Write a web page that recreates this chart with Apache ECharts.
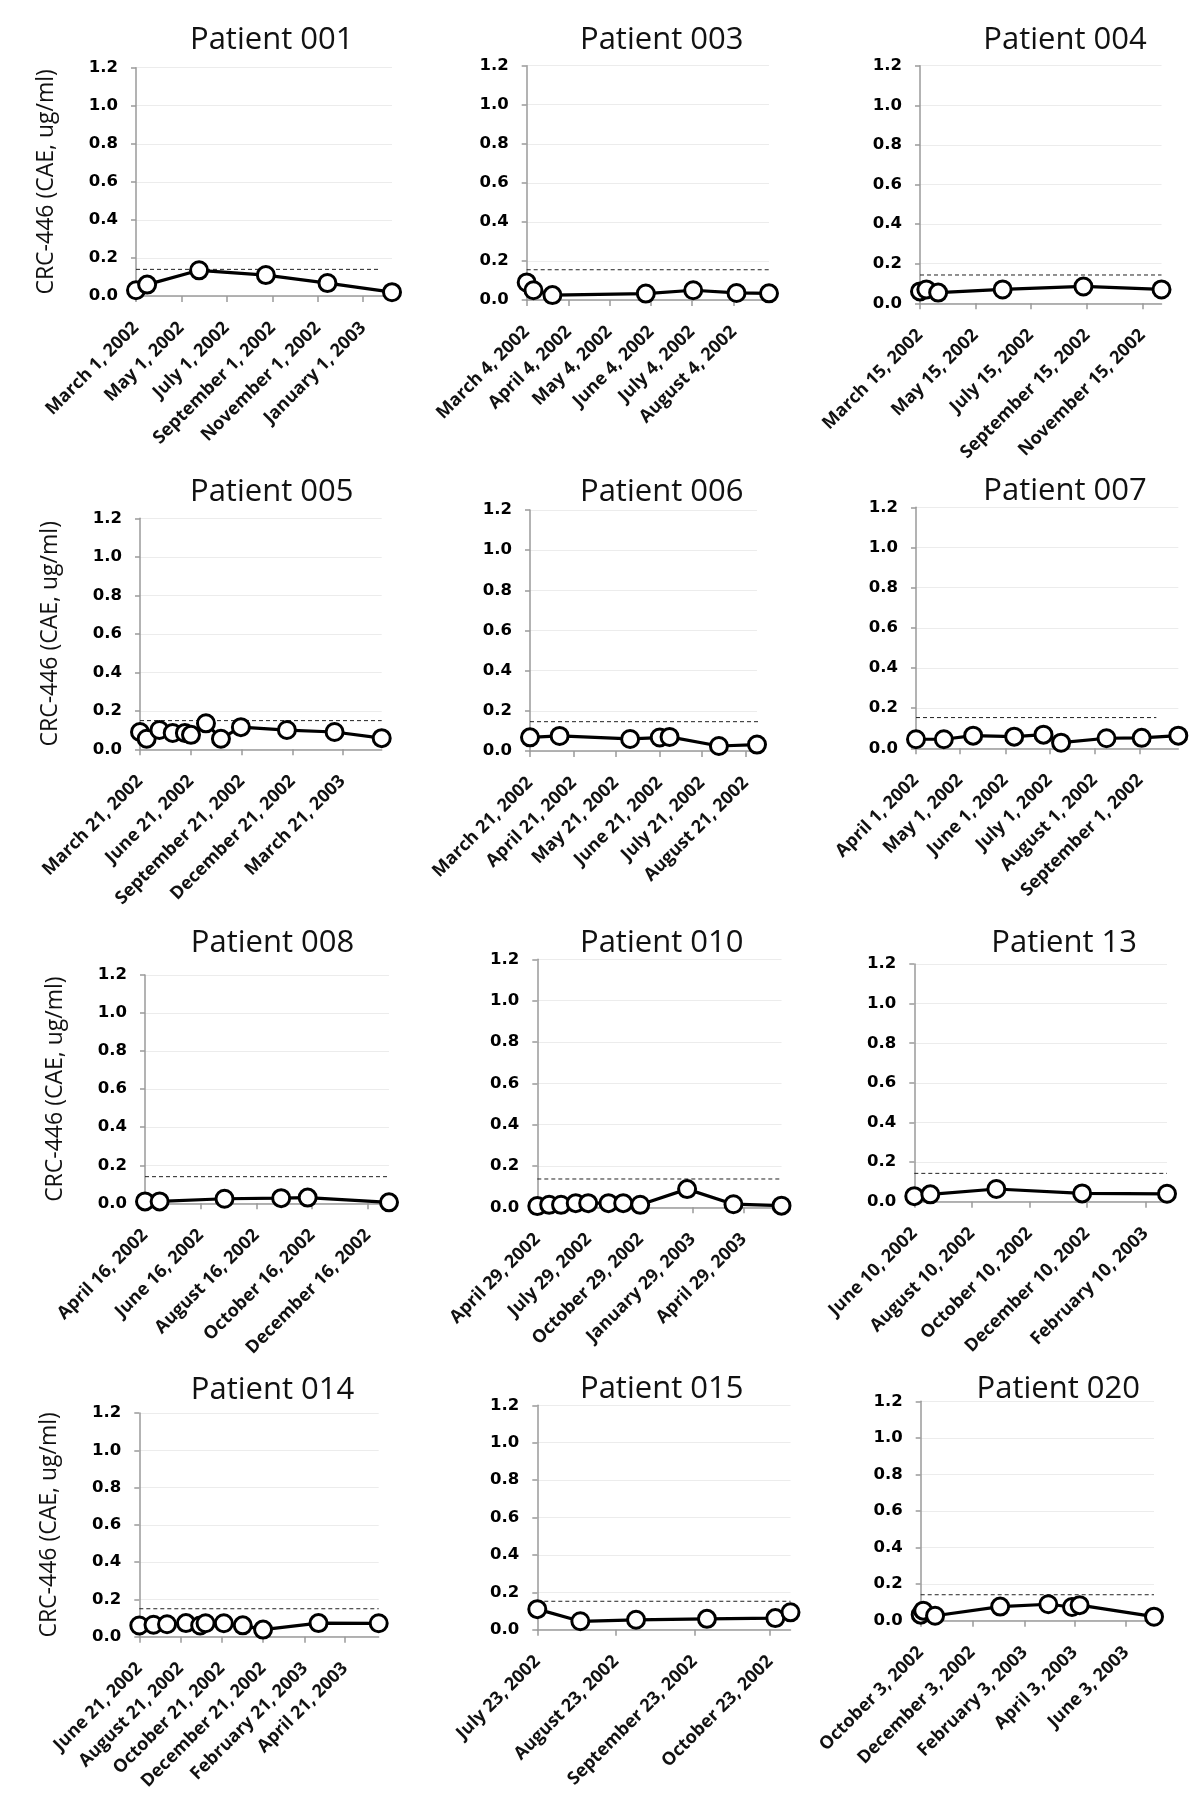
<!DOCTYPE html>
<html><head><meta charset="utf-8">
<script src="https://cdn.jsdelivr.net/npm/echarts@6/dist/echarts.min.js"></script>
<style>html,body{margin:0;padding:0;background:#fff}#c{width:1200px;height:1798px}</style>
</head><body><div id="c"></div>
<script>
// ---------------- DATA ----------------
const titles = ['Patient 001','Patient 003','Patient 004','Patient 005','Patient 006','Patient 007',
                'Patient 008','Patient 010','Patient 13','Patient 014','Patient 015','Patient 020'];
const yAxisTitle = 'CRC-446 (CAE, ug/ml)';
const yTicks = [0, 0.2, 0.4, 0.6, 0.8, 1.0, 1.2];

const p001Dates  = ['2002-03-01','2002-03-16','2002-05-25','2002-08-23','2002-11-14','2003-02-09'];
const p001Values = [0.03, 0.06, 0.135, 0.11, 0.068, 0.02];
const p001Ticks  = ['2002-03-01','2002-05-01','2002-07-01','2002-09-01','2002-11-01','2003-01-01'];

const p003Dates  = ['2002-03-04','2002-03-09','2002-03-23','2002-05-31','2002-07-05','2002-08-06','2002-08-30'];
const p003Values = [0.09, 0.05, 0.025, 0.033, 0.05, 0.036, 0.034];
const p003Ticks  = ['2002-03-04','2002-04-04','2002-05-04','2002-06-04','2002-07-04','2002-08-04'];

const p004Dates  = ['2002-03-15','2002-03-22','2002-04-04','2002-06-14','2002-09-11','2002-12-06'];
const p004Values = [0.06, 0.07, 0.054, 0.07, 0.085, 0.07];
const p004Ticks  = ['2002-03-15','2002-05-15','2002-07-15','2002-09-15','2002-11-15'];

const p005Dates  = ['2002-03-21','2002-04-02','2002-04-25','2002-05-19','2002-06-10','2002-06-21',
                    '2002-07-18','2002-08-14','2002-09-19','2002-12-11','2003-03-07','2003-05-31'];
const p005Values = [0.09, 0.055, 0.10, 0.085, 0.085, 0.075, 0.135, 0.055, 0.115, 0.10, 0.09, 0.058];
const p005Ticks  = ['2002-03-21','2002-06-21','2002-09-21','2002-12-21','2003-03-21'];

const p006Dates  = ['2002-03-21','2002-04-11','2002-05-31','2002-06-21','2002-06-28','2002-08-02','2002-08-29'];
const p006Values = [0.068, 0.075, 0.06, 0.067, 0.07, 0.025, 0.032];
const p006Ticks  = ['2002-03-21','2002-04-21','2002-05-21','2002-06-21','2002-07-21','2002-08-21'];

const p007Dates  = ['2002-04-01','2002-04-20','2002-05-10','2002-06-07','2002-06-27','2002-07-09',
                    '2002-08-09','2002-09-02','2002-09-27'];
const p007Values = [0.045, 0.045, 0.063, 0.058, 0.068, 0.028, 0.05, 0.052, 0.063];
const p007Ticks  = ['2002-04-01','2002-05-01','2002-06-01','2002-07-01','2002-08-01','2002-09-01'];

const p008Dates  = ['2002-04-16','2002-05-02','2002-07-12','2002-09-12','2002-10-11','2003-01-08'];
const p008Values = [0.01, 0.01, 0.024, 0.027, 0.03, 0.005];
const p008Ticks  = ['2002-04-16','2002-06-16','2002-08-16','2002-10-16','2002-12-16'];

const p010Dates  = ['2002-04-29','2002-05-20','2002-06-10','2002-07-06','2002-07-28','2002-09-02',
                    '2002-09-28','2002-10-28','2003-01-19','2003-04-11','2003-07-05'];
const p010Values = [0.006, 0.012, 0.012, 0.02, 0.02, 0.02, 0.02, 0.012, 0.088, 0.015, 0.008];
const p010Ticks  = ['2002-04-29','2002-07-29','2002-10-29','2003-01-29','2003-04-29'];

const p13Dates   = ['2002-06-10','2002-06-27','2002-09-05','2002-12-05','2003-03-05'];
const p13Values  = [0.028, 0.037, 0.064, 0.042, 0.04];
const p13Ticks   = ['2002-06-10','2002-08-10','2002-10-10','2002-12-10','2003-02-10'];

const p014Dates  = ['2002-06-21','2002-07-12','2002-08-01','2002-08-29','2002-09-19','2002-09-27',
                    '2002-10-24','2002-11-21','2002-12-21','2003-03-13','2003-06-10'];
const p014Values = [0.06, 0.064, 0.067, 0.073, 0.06, 0.072, 0.072, 0.061, 0.038, 0.073, 0.072];
const p014Ticks  = ['2002-06-21','2002-08-21','2002-10-21','2002-12-21','2003-02-21','2003-04-21'];

const p015Dates  = ['2002-07-23','2002-08-09','2002-08-31','2002-09-28','2002-10-25','2002-10-31'];
const p015Values = [0.11, 0.045, 0.053, 0.058, 0.062, 0.093];
const p015Ticks  = ['2002-07-23','2002-08-23','2002-09-23','2002-10-23'];

const p020Dates  = ['2002-10-03','2002-10-06','2002-10-20','2003-01-05','2003-03-03','2003-03-31','2003-04-09','2003-07-06'];
const p020Values = [0.033, 0.055, 0.027, 0.077, 0.09, 0.075, 0.085, 0.022];
const p020Ticks  = ['2002-10-03','2002-12-03','2003-02-03','2003-04-03','2003-06-03'];

// dashed reference line (value, end date) per panel
const thresholdValues = [0.14, 0.155, 0.143, 0.149, 0.146, 0.153, 0.14, 0.137, 0.143, 0.15, 0.152, 0.142];
const thresholdEnds   = ['2003-01-25','2002-08-30','2002-12-06','2003-05-31','2002-09-09','2002-09-12',
                         '2003-01-07','2003-07-05','2003-03-05','2003-06-10','2002-10-31','2003-07-06'];

const allDates  = [p001Dates,p003Dates,p004Dates,p005Dates,p006Dates,p007Dates,p008Dates,p010Dates,p13Dates,p014Dates,p015Dates,p020Dates];
const allValues = [p001Values,p003Values,p004Values,p005Values,p006Values,p007Values,p008Values,p010Values,p13Values,p014Values,p015Values,p020Values];
const allTicks  = [p001Ticks,p003Ticks,p004Ticks,p005Ticks,p006Ticks,p007Ticks,p008Ticks,p010Ticks,p13Ticks,p014Ticks,p015Ticks,p020Ticks];

// ---------------- LAYOUT ----------------
// plot rectangles [left, top, right, bottom]
const plotRects = [
  [136, 67.7, 392, 296], [526.7, 65.7, 769, 300], [920, 65.7, 1161.5, 303.3],
  [140, 518.3, 381.7, 749.3], [530, 510, 757, 751], [916, 507.3, 1178.3, 748.3],
  [145, 975, 389, 1203.3], [537.3, 959.3, 781.5, 1207.3], [914.3, 964, 1167, 1201.7],
  [139.3, 1413, 378.7, 1636.7], [537.3, 1405.3, 790.5, 1629.7], [920.7, 1401.3, 1154, 1620.7]
];
const titleCenters = [
  [266.7, 35], [656.7, 35], [1060, 35],
  [266.7, 487], [656.7, 487], [1060, 486],
  [267.5, 938], [656.7, 938], [1059.2, 938],
  [267.5, 1385], [656.7, 1384.5], [1053.3, 1384.5]
];

const MONTHS = ['January','February','March','April','May','June','July','August','September','October','November','December'];
function ts(s){ const p = s.split('-').map(Number); return Date.UTC(p[0], p[1]-1, p[2]); }
function fmtDate(v){ const d = new Date(v); return MONTHS[d.getUTCMonth()] + ' ' + d.getUTCDate() + ', ' + d.getUTCFullYear(); }

const grids = [], xAxes = [], yAxes = [], series = [], titleOpts = [];
for (let i = 0; i < 12; i++) {
  const r = plotRects[i];
  grids.push({ left: r[0], top: r[1], width: r[2]-r[0], height: r[3]-r[1], containLabel: false, outerBoundsMode: 'none' });
  const dts = allDates[i].map(ts);
  const xmin = Math.min.apply(null, dts), xmax = Math.max.apply(null, dts);
  const tickVals = allTicks[i].map(ts);
  xAxes.push({
    type: 'value', gridIndex: i, min: xmin, max: xmax,
    axisLine: { show: true, lineStyle: { color: '#9a9a9a', width: 1.5 } },
    axisTick: { show: true, customValues: tickVals, length: 6, lineStyle: { color: '#9a9a9a', width: 1.5 } },
    axisLabel: { customValues: tickVals, rotate: 45, margin: 29, formatter: v => fmtDate(v),
                 fontFamily: 'Open Sans', fontWeight: 'bold', fontSize: 18, color: '#111' },
    splitLine: { show: false }
  });
  const yAx = {
    type: 'value', gridIndex: i, min: 0, max: 1.2, interval: 0.2,
    axisLine: { show: true, lineStyle: { color: '#9a9a9a', width: 1.5 } },
    axisTick: { show: true, length: 5, lineStyle: { color: '#9a9a9a', width: 1.5 } },
    axisLabel: { margin: 18, formatter: v => v.toFixed(1), fontFamily: 'DejaVu Sans', fontWeight: 'bold', fontSize: 16.5, color: '#000' },
    splitLine: { show: true, lineStyle: { color: '#ececec', width: 1.2 } }
  };
  if (i % 3 === 0) {
    yAx.name = yAxisTitle; yAx.nameLocation = 'middle'; yAx.nameGap = 78; yAx.nameRotate = 90;
    yAx.nameTextStyle = { fontFamily: 'Open Sans', fontSize: 23, color: '#111' };
  }
  yAxes.push(yAx);
  titleOpts.push({ text: titles[i], left: titleCenters[i][0], top: titleCenters[i][1], textAlign: 'center', textVerticalAlign: 'middle',
                   textStyle: { fontFamily: 'Open Sans', fontSize: 31, fontWeight: 'normal', color: '#111' } });
  series.push({
    type: 'line', xAxisIndex: i, yAxisIndex: i, clip: false, silent: true, z: 1,
    data: [[xmin, thresholdValues[i]], [ts(thresholdEnds[i]), thresholdValues[i]]],
    symbol: 'none', lineStyle: { color: '#222', width: 1, type: [4, 3] }
  });
  series.push({
    type: 'line', xAxisIndex: i, yAxisIndex: i, clip: false, silent: true, z: 3,
    data: dts.map((t, k) => [t, allValues[i][k]]),
    symbol: 'circle', symbolSize: 17, showAllSymbol: true,
    lineStyle: { color: '#000', width: 3.2 },
    itemStyle: { color: '#fff', borderColor: '#000', borderWidth: 3 }
  });
}

const chart = echarts.init(document.getElementById('c'), null, { renderer: 'canvas' });
chart.setOption({
  animation: false, backgroundColor: '#fff',
  title: titleOpts, grid: grids, xAxis: xAxes, yAxis: yAxes, series: series
});
</script></body></html>
